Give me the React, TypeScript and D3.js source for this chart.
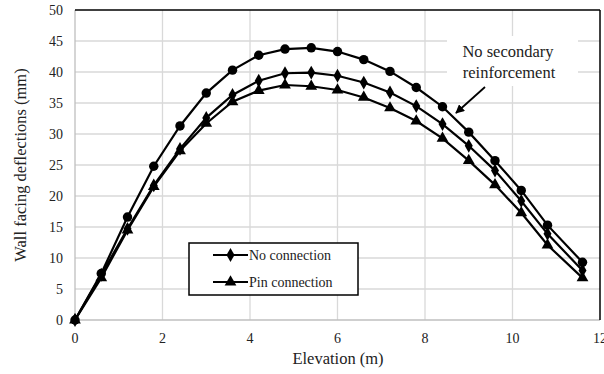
import React from "react";
import * as d3 from "d3";

const elevation = [0, 0.6, 1.2, 1.8, 2.4, 3.0, 3.6, 4.2, 4.8, 5.4, 6.0, 6.6, 7.2, 7.8, 8.4, 9.0, 9.6, 10.2, 10.8, 11.6];
const noSecondary = [0, 7.5, 16.6, 24.8, 31.3, 36.6, 40.3, 42.7, 43.7, 43.9, 43.3, 42.0, 40.1, 37.5, 34.4, 30.3, 25.7, 20.9, 15.3, 9.3];
const noConnection = [0, 7.3, 14.7, 21.7, 27.6, 32.6, 36.3, 38.6, 39.8, 39.9, 39.4, 38.3, 36.7, 34.5, 31.6, 28.1, 24.1, 19.2, 13.9, 8.0];
const pinConnection = [0, 6.8, 14.5, 21.5, 27.3, 31.7, 35.2, 37.0, 37.9, 37.7, 37.1, 35.9, 34.2, 32.1, 29.3, 25.7, 21.8, 17.3, 12.1, 6.8];
const xTicks = [0, 2, 4, 6, 8, 10, 12];
const yTicks = [0, 5, 10, 15, 20, 25, 30, 35, 40, 45, 50];

const W = 604, H = 374;
const L = 75, R = 600, T = 10, B = 320;
const FONT = `"Times New Roman", "Liberation Serif", Tinos, Georgia, FreeSerif`;

function Label(props: { x: number; y: number; size: number; anchor?: string; transform?: string; children: React.ReactNode }) {
  return (
    <text
      x={props.x}
      y={props.y}
      transform={props.transform}
      textAnchor={props.anchor || "start"}
      style={{ fontFamily: FONT, fontSize: `${props.size}px` }}
      fill="#222"
    >
      {props.children}
    </text>
  );
}

export default function App() {
  const x = d3.scaleLinear().domain([0, 12]).range([L, R]);
  const y = d3.scaleLinear().domain([0, 50]).range([B, T]);
  const line = d3.line<number>().x((_, i) => x(elevation[i])).y((d) => y(d));

  const circle = d3.symbol().type(d3.symbolCircle).size(70)()!;
  const diamond = d3.symbol().type(d3.symbolDiamond).size(55)()!;
  const triangle = d3.symbol().type(d3.symbolTriangle).size(60)()!;

  const series = [
    { data: noSecondary, sym: circle },
    { data: noConnection, sym: diamond },
    { data: pinConnection, sym: triangle },
  ];

  return (
    <svg width={W} height={H} style={{ position: "absolute", left: 0, top: 0 }}>
      <defs>
        <marker id="arr" viewBox="0 0 10 10" refX="9" refY="5" markerWidth="5" markerHeight="5" orient="auto">
          <path d="M0,0 L10,5 L0,10 z" fill="#000" />
        </marker>
      </defs>
      <rect x={0} y={0} width={W} height={H} fill="#fff" />
      {yTicks.slice(1, -1).map((t) => (
        <line key={"gy" + t} x1={L} x2={R} y1={y(t)} y2={y(t)} stroke="#d9d9d9" strokeWidth={1.3} />
      ))}
      {xTicks.slice(1, -1).map((t) => (
        <line key={"gx" + t} x1={x(t)} x2={x(t)} y1={T} y2={B} stroke="#d9d9d9" strokeWidth={1.3} />
      ))}
      <line x1={L} x2={L} y1={T} y2={B} stroke="#bfbfbf" strokeWidth={1.3} />
      <line x1={L} x2={R} y1={B} y2={B} stroke="#bfbfbf" strokeWidth={1.3} />
      <line x1={L} x2={R} y1={T} y2={T} stroke="#000" strokeWidth={1.5} />
      <line x1={R} x2={R} y1={T} y2={B} stroke="#000" strokeWidth={1.5} />

      {yTicks.map((t) => (
        <Label key={"ty" + t} x={63} y={y(t) + 4.5} size={14} anchor="end">{t}</Label>
      ))}
      {xTicks.map((t) => (
        <Label key={"tx" + t} x={x(t)} y={343} size={14} anchor="middle">{t}</Label>
      ))}
      <Label x={338} y={364} size={16.5} anchor="middle">Elevation (m)</Label>
      <Label x={0} y={0} transform={`translate(26,${(T + B) / 2}) rotate(-90)`} size={16.5} anchor="middle">Wall facing deflections (mm)</Label>

      {series.map((s, k) => (
        <g key={k}>
          <path d={line(s.data)!} fill="none" stroke="#000" strokeWidth={2.2} />
          {s.data.map((v, i) => (
            <path key={i} d={s.sym} transform={`translate(${x(elevation[i])},${y(v)})`} fill="#000" />
          ))}
        </g>
      ))}

      <rect x={447} y={36} width={131} height={50} fill="#fff" />
      <Label x={508} y={57} size={16.5} anchor="middle">No secondary</Label>
      <Label x={509} y={78} size={16.5} anchor="middle">reinforcement</Label>
      <line x1={485} y1={87} x2={456} y2={113} stroke="#000" strokeWidth={1.8} markerEnd="url(#arr)" />

      <rect x={189} y={243} width={169} height={52} fill="#fff" stroke="#000" strokeWidth={1.5} />
      <line x1={213} x2={248} y1={255} y2={255} stroke="#000" strokeWidth={2.2} />
      <path d={diamond} transform="translate(230.5,255)" fill="#000" />
      <line x1={213} x2={248} y1={282} y2={282} stroke="#000" strokeWidth={2.2} />
      <path d={triangle} transform="translate(230.5,282)" fill="#000" />
      <Label x={249} y={259.5} size={14}>No connection</Label>
      <Label x={249} y={286.5} size={14}>Pin connection</Label>
    </svg>
  );
}
